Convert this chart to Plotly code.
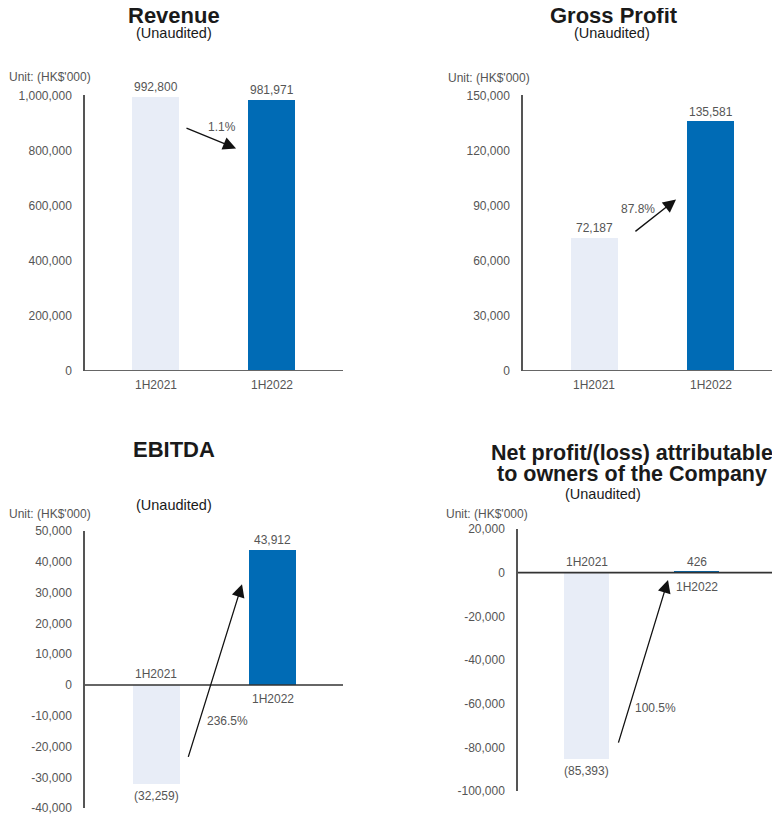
import plotly.graph_objects as go

# ---------------- data ----------------
categories = ["1H2021", "1H2022"]
revenue = [992800, 981971]
gross_profit = [72187, 135581]
ebitda = [-32259, 43912]
net_profit = [-85393, 426]

change_labels = ["1.1%", "87.8%", "236.5%", "100.5%"]

revenue_ticks = [0, 200000, 400000, 600000, 800000, 1000000]
gross_profit_ticks = [0, 30000, 60000, 90000, 120000, 150000]
ebitda_ticks = [-40000, -30000, -20000, -10000, 0, 10000, 20000, 30000, 40000, 50000]
net_profit_ticks = [-100000, -80000, -60000, -40000, -20000, 0, 20000]

titles = ["Revenue", "Gross Profit", "EBITDA",
          ["Net profit/(loss) attributable", "to owners of the Company"]]
subtitle = "(Unaudited)"
unit_label = "Unit: (HK$'000)"

# ---------------- styling ----------------
W, H = 780, 815
FONT = "Liberation Sans, Arial, Helvetica, sans-serif"
TXT = "#555555"
DARK = "#1a1a1a"
AXIS = "#333333"
YAXIS = "#555555"
LIGHT_BAR = "#E8EDF7"
DARK_BAR = "#006BB5"

# page placement compensation (target pixel -> figure pixel)
OX, OY, SY = 8.0, 14.7, 0.9817


def px_x(x):
    return (x - OX) / W


def px_y(y):
    return 1 - ((y - OY) / SY) / H


def fmt_val(v):
    return f"({abs(v):,})" if v < 0 else f"{v:,}"


def fmt_tick(v):
    return f"{v:,}" if v >= 0 else "-" + f"{abs(v):,}"


panels = [
    dict(values=revenue, ticks=revenue_ticks, xdom=(85, 343), ydom=(95, 370),
         xr=[-0.608, 1.616], yr=[0, 1000000], bw=0.405,
         arrow=((0.254, 883600), (0.694, 807300)), chg=(0.573, 883600),
         title=[(174, 15, 22)], sub=(174, 33), unit=(50, 77)),
    dict(values=gross_profit, ticks=gross_profit_ticks, xdom=(523, 780), ydom=(95, 370),
         xr=[-0.616, 1.599], yr=[0, 150000], bw=0.405,
         arrow=((0.34, 75270), (0.703, 93270)), chg=(0.375, 88360),
         title=[(614, 15, 22)], sub=(612, 33), unit=(489, 78)),
    dict(values=ebitda, ticks=ebitda_ticks, xdom=(85, 343), ydom=(530, 807),
         xr=[-0.616, 1.607], yr=[-40000, 50000], bw=0.405,
         arrow=((0.27, -23816), (0.737, 32720)), chg=(0.616, -11800),
         title=[(174, 449, 22)], sub=(174, 504), unit=(50, 513)),
    dict(values=net_profit, ticks=net_profit_ticks, xdom=(518, 780), ydom=(528, 790),
         xr=[-0.623, 1.759], yr=[-100000, 20000], bw=0.41,
         arrow=((0.286, -78460), (0.741, -3340)), chg=(0.623, -62000),
         title=[(632, 452, 21.5), (632, 473, 21.5)], sub=(603, 493), unit=(487, 513)),
]

fig = go.Figure()
annotations = []
shapes = []
layout_axes = {}

for i, p in enumerate(panels):
    n = "" if i == 0 else str(i + 1)
    xa, ya = "x" + n, "y" + n

    fig.add_trace(go.Bar(
        x=categories, y=p["values"], xaxis=xa, yaxis=ya,
        marker=dict(color=[LIGHT_BAR, DARK_BAR], line=dict(width=0)),
        width=p["bw"], showlegend=False, hoverinfo="skip",
    ))

    layout_axes["xaxis" + n] = dict(
        domain=[px_x(p["xdom"][0]), min(1.0, px_x(p["xdom"][1]))], anchor=ya,
        range=p["xr"], type="category", showticklabels=False, showgrid=False,
        zeroline=False, showline=False, fixedrange=True,
    )
    layout_axes["yaxis" + n] = dict(
        domain=[px_y(p["ydom"][1]), px_y(p["ydom"][0])], anchor=xa,
        range=p["yr"], tickvals=p["ticks"], ticktext=[fmt_tick(t) for t in p["ticks"]],
        showgrid=False, zeroline=False, showline=True, linecolor=YAXIS, linewidth=1.5,
        ticks="outside", ticklen=9, tickcolor="rgba(0,0,0,0)",
        tickfont=dict(family=FONT, size=12, color=TXT), fixedrange=True,
    )

    # zero line
    shapes.append(dict(type="line", xref=xa + " domain", yref=ya, x0=0, x1=1, y0=0, y1=0,
                       line=dict(color=AXIS, width=1.6), layer="above"))

    # value & category labels
    for cat, v in zip(categories, p["values"]):
        pos = v >= 0
        annotations.append(dict(
            x=cat, y=v, xref=xa, yref=ya, text=fmt_val(v), showarrow=False,
            yanchor="bottom" if pos else "top", yshift=1 if pos else -3,
            font=dict(family=FONT, size=12, color=TXT)))
        annotations.append(dict(
            x=cat, y=0, xref=xa, yref=ya, text=cat, showarrow=False,
            yanchor="top" if pos else "bottom", yshift=-5 if pos else 2,
            font=dict(family=FONT, size=12, color=TXT)))

    # change arrow
    (tx, ty), (hx, hy) = p["arrow"]
    annotations.append(dict(
        x=hx, y=hy, ax=tx, ay=ty, xref=xa, yref=ya, axref=xa, ayref=ya,
        text="", showarrow=True, arrowhead=2, arrowsize=2.0, arrowwidth=1.3,
        arrowcolor="#111111", standoff=0, startstandoff=0))
    annotations.append(dict(
        x=p["chg"][0], y=p["chg"][1], xref=xa, yref=ya, text=change_labels[i],
        showarrow=False, font=dict(family=FONT, size=12, color=TXT)))

    # titles
    t = titles[i] if isinstance(titles[i], list) else [titles[i]]
    for line, (cx, cy, fs) in zip(t, p["title"]):
        annotations.append(dict(
            x=px_x(cx), y=px_y(cy), xref="paper", yref="paper", text=f"<b>{line}</b>",
            showarrow=False, xanchor="center", yanchor="middle", borderpad=0,
            font=dict(family=FONT, size=fs, color=DARK)))
    annotations.append(dict(
        x=px_x(p["sub"][0]), y=px_y(p["sub"][1]), xref="paper", yref="paper", text=subtitle,
        showarrow=False, xanchor="center", yanchor="middle", borderpad=0,
        font=dict(family=FONT, size=14.5, color=DARK)))
    annotations.append(dict(
        x=px_x(p["unit"][0]), y=px_y(p["unit"][1]), xref="paper", yref="paper", text=unit_label,
        showarrow=False, xanchor="center", yanchor="middle",
        font=dict(family=FONT, size=12, color=TXT)))

fig.update_layout(
    width=W, height=H, margin=dict(l=0, r=0, t=0, b=0),
    paper_bgcolor="white", plot_bgcolor="white",
    annotations=annotations, shapes=shapes, showlegend=False,
    bargap=0, **layout_axes,
)

fig.write_html("out.html", config={"displayModeBar": False})
